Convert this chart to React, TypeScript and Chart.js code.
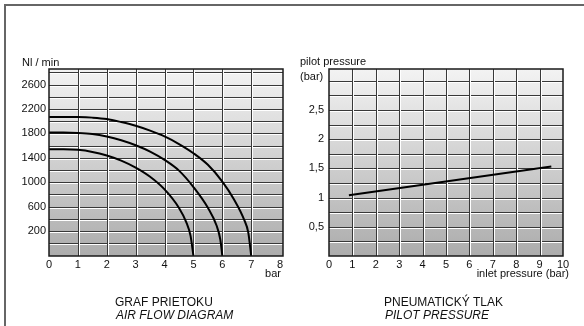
import React, { useEffect, useRef } from "react";
import { Chart, registerables } from "chart.js";
Chart.register(...registerables);

// ---- Air flow diagram data ----
const flowX7 = [0, 0.5, 1, 1.5, 2, 2.5, 3, 3.5, 4, 4.5, 5, 5.5, 6, 6.4, 6.75, 6.9, 7];
const flowY7 = [2070, 2070, 2068, 2058, 2035, 1985, 1925, 1845, 1750, 1625, 1475, 1285, 1010, 720, 390, 170, -210];
const flowX6 = [0, 0.5, 1, 1.5, 2, 2.5, 3, 3.5, 4, 4.5, 5, 5.5, 5.8, 5.93, 6];
const flowY6 = [1815, 1815, 1808, 1789, 1748, 1687, 1605, 1501, 1365, 1189, 920, 580, 290, 60, -210];
const flowX5 = [0, 0.5, 1, 1.5, 2, 2.5, 3, 3.5, 4, 4.5, 4.75, 4.9, 5];
const flowY5 = [1540, 1540, 1530, 1496, 1437, 1353, 1238, 1088, 881, 578, 347, 120, -210];
const flowXTicks = [0, 1, 2, 3, 4, 5, 6, 7, 8];
const flowXGrid = [1, 2, 3, 4, 5, 6, 7];
const flowYLabels = [200, 600, 1000, 1400, 1800, 2200, 2600];
const flowYGrid = [0, 200, 400, 600, 800, 1000, 1200, 1400, 1600, 1800, 2000, 2200, 2400, 2600, 2800];

// ---- Pilot pressure data ----
const pilotX = [0.85, 9.5];
const pilotY = [1.04, 1.53];
const pilotXTicks = [0, 1, 2, 3, 4, 5, 6, 7, 8, 9, 10];
const pilotXGrid = [1, 2, 3, 4, 5, 6, 7, 8, 9];
const pilotYLabelValues = [0.5, 1, 1.5, 2, 2.5];
const pilotYLabelTexts = ["0,5", "1", "1,5", "2", "2,5"];
const pilotYGrid = [0.25, 0.5, 0.75, 1, 1.25, 1.5, 1.75, 2, 2.25, 2.5, 2.75, 3];

const FONT = "'Liberation Sans', Arial, Helvetica, sans-serif";

const embossGrid = {
  id: "embossGrid",
  beforeDatasetsDraw(chart: any, _args: any, opts: any) {
    const { ctx, chartArea: a, scales } = chart;
    const x = scales.x, y = scales.y;
    ctx.save();
    const g = ctx.createLinearGradient(0, a.top, 0, a.bottom);
    g.addColorStop(0, "#f3f3f3");
    g.addColorStop(1, "#acacac");
    ctx.fillStyle = g;
    ctx.fillRect(a.left, a.top, a.right - a.left, a.bottom - a.top);
    ctx.lineWidth = 1;
    for (const v of opts.yLines) {
      const p = Math.round(y.getPixelForValue(v));
      if (p <= a.top + 1 || p >= a.bottom - 1) continue;
      ctx.strokeStyle = "#383838";
      ctx.beginPath(); ctx.moveTo(a.left, p + 0.5); ctx.lineTo(a.right, p + 0.5); ctx.stroke();
      ctx.strokeStyle = "#ffffff";
      ctx.beginPath(); ctx.moveTo(a.left, p + 1.5); ctx.lineTo(a.right, p + 1.5); ctx.stroke();
    }
    for (const v of opts.xLines) {
      const p = Math.round(x.getPixelForValue(v));
      ctx.strokeStyle = "#383838";
      ctx.beginPath(); ctx.moveTo(p + 0.5, a.top); ctx.lineTo(p + 0.5, a.bottom); ctx.stroke();
      ctx.strokeStyle = "#ffffff";
      ctx.beginPath(); ctx.moveTo(p + 1.5, a.top); ctx.lineTo(p + 1.5, a.bottom); ctx.stroke();
    }
    ctx.restore();
  },
  afterDatasetsDraw(chart: any) {
    const { ctx, chartArea: a } = chart;
    ctx.save();
    ctx.strokeStyle = "#1a1a1a";
    ctx.lineWidth = 1.5;
    ctx.strokeRect(a.left, a.top, a.right - a.left, a.bottom - a.top);
    ctx.restore();
  },
};

function lineDs(xs: number[], ys: number[]) {
  return {
    data: xs.map((v, i) => ({ x: v, y: ys[i] })),
    borderColor: "#000",
    borderWidth: 2,
    pointRadius: 0,
    fill: false,
    cubicInterpolationMode: "monotone" as const,
  };
}

const tickFont = { family: FONT, size: 11 };

function FlowChart() {
  const ref = useRef<HTMLCanvasElement>(null);
  useEffect(() => {
    const chart = new Chart(ref.current!, {
      type: "line",
      data: { datasets: [lineDs(flowX7, flowY7), lineDs(flowX6, flowY6), lineDs(flowX5, flowY5)] as any },
      options: {
        animation: false,
        responsive: false,
        layout: { padding: { left: 0, top: 69, right: 9, bottom: 0 } },
        plugins: { legend: { display: false }, tooltip: { enabled: false }, embossGrid: { xLines: flowXGrid, yLines: flowYGrid } } as any,
        scales: {
          x: {
            type: "linear", min: 0, max: 8.1,
            afterBuildTicks: (s: any) => { s.ticks = flowXTicks.map((v) => ({ value: v })); },
            afterFit: (s: any) => { s.height = 70; },
            grid: { display: false, drawTicks: false, tickLength: 0 },
            border: { display: false },
            ticks: { font: tickFont, color: "#111", padding: 2, maxRotation: 0, autoSkip: false, callback: (v: any) => String(v) },
          },
          y: {
            type: "linear", min: -210, max: 2855,
            afterBuildTicks: (s: any) => { s.ticks = flowYLabels.map((v) => ({ value: v })); },
            afterFit: (s: any) => { s.width = 49; },
            grid: { display: false, drawTicks: false, tickLength: 0 },
            border: { display: false },
            ticks: { font: tickFont, color: "#111", padding: 3, autoSkip: false, callback: (v: any) => String(v) },
          },
        },
      } as any,
      plugins: [embossGrid],
    });
    return () => chart.destroy();
  }, []);
  return <canvas ref={ref} width={292} height={326} style={{ position: "absolute", left: 0, top: 0, width: 292, height: 326 }} />;
}

function PilotChart() {
  const ref = useRef<HTMLCanvasElement>(null);
  useEffect(() => {
    const chart = new Chart(ref.current!, {
      type: "line",
      data: { datasets: [{ ...lineDs(pilotX, pilotY), cubicInterpolationMode: "default", tension: 0 }] as any },
      options: {
        animation: false,
        responsive: false,
        layout: { padding: { left: 0, top: 69, right: 21, bottom: 0 } },
        plugins: { legend: { display: false }, tooltip: { enabled: false }, embossGrid: { xLines: pilotXGrid, yLines: pilotYGrid } } as any,
        scales: {
          x: {
            type: "linear", min: 0, max: 10,
            afterBuildTicks: (s: any) => { s.ticks = pilotXTicks.map((v) => ({ value: v })); },
            afterFit: (s: any) => { s.height = 70; },
            grid: { display: false, drawTicks: false, tickLength: 0 },
            border: { display: false },
            ticks: { font: tickFont, color: "#111", padding: 2, maxRotation: 0, autoSkip: false, callback: (v: any) => String(v) },
          },
          y: {
            type: "linear", min: 0, max: 3.2,
            afterBuildTicks: (s: any) => { s.ticks = pilotYLabelValues.map((v) => ({ value: v })); },
            afterFit: (s: any) => { s.width = 37; },
            grid: { display: false, drawTicks: false, tickLength: 0 },
            border: { display: false },
            ticks: {
              font: tickFont, color: "#111", padding: 5, autoSkip: false,
              callback: (v: any) => { const i = pilotYLabelValues.indexOf(Number(v)); return i >= 0 ? pilotYLabelTexts[i] : ""; },
            },
          },
        },
      } as any,
      plugins: [embossGrid],
    });
    return () => chart.destroy();
  }, []);
  return <canvas ref={ref} width={292} height={326} style={{ position: "absolute", left: 292, top: 0, width: 292, height: 326 }} />;
}

function Txt(p: { x: number; base: number; text: string; size?: number; align?: "left" | "right"; italic?: boolean }) {
  const size = p.size ?? 11;
  const top = p.base - 0.8465 * size;
  const style: React.CSSProperties = {
    position: "absolute",
    top,
    fontFamily: FONT,
    fontSize: size,
    lineHeight: `${size}px`,
    fontStyle: p.italic ? "italic" : "normal",
    color: "#111",
    whiteSpace: "nowrap",
  };
  if (p.align === "right") {
    style.left = p.x - 300;
    style.width = 300;
    style.textAlign = "right";
  } else {
    style.left = p.x;
  }
  return <div style={style}>{p.text}</div>;
}

export default function App() {
  return (
    <div style={{ position: "absolute", left: 0, top: 0, width: 584, height: 326, background: "#fff", overflow: "hidden" }}>
      <div style={{ position: "absolute", left: 4, top: 4, width: 600, height: 340, borderTop: "2px solid #666", borderLeft: "2px solid #666" }} />
      <FlowChart />
      <PilotChart />
      <Txt x={22} base={66.5} text="Nl / min" />
      <Txt x={281} base={277} text="bar" align="right" />
      <Txt x={115} base={306.5} text="GRAF PRIETOKU" size={12} />
      <Txt x={116} base={319} text="AIR FLOW DIAGRAM" size={12} italic />
      <Txt x={300} base={65.5} text="pilot pressure" />
      <Txt x={300} base={80} text="(bar)" />
      <Txt x={569} base={277} text="inlet pressure (bar)" align="right" />
      <Txt x={384} base={306.5} text="PNEUMATICKÝ TLAK" size={12} />
      <Txt x={385} base={319} text="PILOT PRESSURE" size={12} italic />
    </div>
  );
}
